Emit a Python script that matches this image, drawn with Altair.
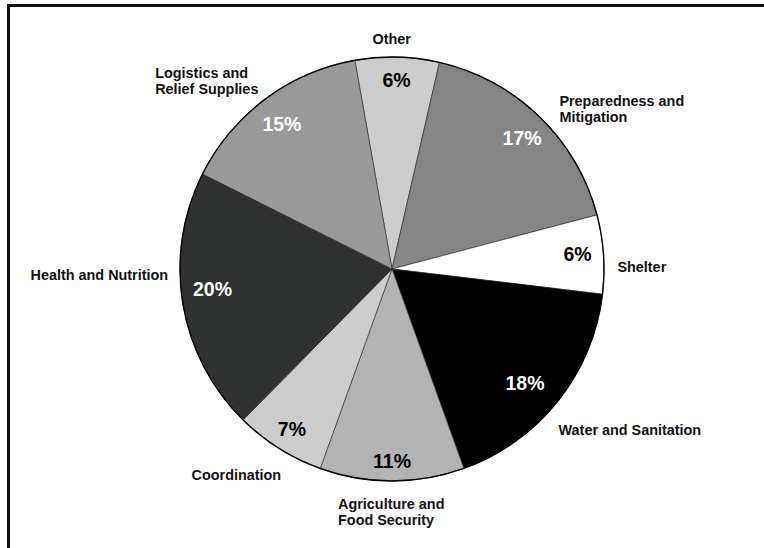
import math
import altair as alt
import pandas as pd

# ---- data (clockwise from the top) ----
categories = [
    "Other",
    "Preparedness and Mitigation",
    "Shelter",
    "Water and Sanitation",
    "Agriculture and Food Security",
    "Coordination",
    "Health and Nutrition",
    "Logistics and Relief Supplies",
]
label_lines = [
    "Other",
    "Preparedness and\nMitigation",
    "Shelter",
    "Water and Sanitation",
    "Agriculture and\nFood Security",
    "Coordination",
    "Health and Nutrition",
    "Logistics and\nRelief Supplies",
]
shares = [6.4, 17.3, 6.0, 17.6, 11.0, 6.9, 20.0, 14.8]

# ---- styling ----
fills = ["#cccccc", "#858585", "#ffffff", "#000000", "#b3b3b3", "#cccccc", "#303131", "#999999"]
pct_tones = ["black", "white", "black", "white", "black", "black", "white", "white"]
FONT = "Liberation Sans"
R = 212
START = 2 * math.pi - math.radians(10.1)

# outer label placement: (align, dx, dy) relative to slice mid-angle at outer radius
outer_style = {
    "Other": ("center", -6, 2.5),
    "Preparedness and Mitigation": ("left", 6, 0),
    "Shelter": ("left", -6, 15),
    "Water and Sanitation": ("left", -15, 18),
    "Agriculture and Food Security": ("left", -54, 4),
    "Coordination": ("center", -32, 11),
    "Health and Nutrition": ("right", 5, -31),
    "Logistics and Relief Supplies": ("left", -98, -9),
}
# percentage label nudges (dx, dy) relative to slice mid-angle at inner radius
pct_nudge = {
    "Other": (0, -4),
    "Preparedness and Mitigation": (2, 2),
    "Shelter": (2, -1),
    "Water and Sanitation": (-11, 0),
    "Agriculture and Food Security": (0, 9),
    "Coordination": (-2, 5),
    "Health and Nutrition": (2, -9),
    "Logistics and Relief Supplies": (0, 3),
}

df = pd.DataFrame({
    "idx": list(range(len(categories))),
    "category": categories,
    "label": label_lines,
    "share": shares,
    "tone": pct_tones,
})

theta_scale = alt.Scale(range=[START, START + 2 * math.pi])
base = alt.Chart(df).encode(
    theta=alt.Theta("share:Q", stack=True, scale=theta_scale),
    order=alt.Order("idx:Q"),
)

slices = base.mark_arc(radius=R, stroke="#222222", strokeWidth=0.6).encode(
    color=alt.Color("category:N", scale=alt.Scale(domain=categories, range=fills), legend=None)
)
ring = base.mark_arc(radius=R + 0.7, radius2=R - 0.7, fill="black")

pct_layers = []
for cat in categories:
    dx, dy = pct_nudge[cat]
    pct_layers.append(
        base.transform_calculate(
            pct="format(round(datum.share), 'd') + '%'"
        ).mark_text(
            radius=184, fontSize=19.5, fontWeight="bold", font=FONT, baseline="middle",
            dx=dx, dy=dy,
        ).encode(
            text=alt.condition(alt.datum.category == cat, alt.Text("pct:N"), alt.value("")),
            color=alt.Color("tone:N", scale=None),
        )
    )

outer_layers = []
for cat in categories:
    align, dx, dy = outer_style[cat]
    outer_layers.append(
        base.mark_text(
            radius=232, fontSize=14.4, fontWeight="bold", font=FONT, color="#111111",
            align=align, baseline="middle", dx=dx, dy=dy, lineBreak="\n", lineHeight=16,
        ).encode(
            text=alt.condition(alt.datum.category == cat, alt.Text("label:N"), alt.value(""))
        )
    )

frame_src = alt.Chart(pd.DataFrame({"k": [0]}))
top_rule = frame_src.mark_rule(strokeWidth=3, color="#111111").encode(
    x=alt.value(-13), x2=alt.value(744), y=alt.value(5.5)
)
left_rule = frame_src.mark_rule(strokeWidth=3, color="#111111").encode(
    x=alt.value(-11.5), y=alt.value(4), y2=alt.value(548)
)

chart = alt.layer(slices, ring, *pct_layers, *outer_layers, top_rule, left_rule).properties(
    width=744,
    height=538,
    autosize="none",
    padding={"left": 20, "top": 0, "right": 0, "bottom": 10},
    background="white",
).configure_view(stroke=None)

chart.save("out.html", embed_options={"renderer": "svg", "actions": False})
